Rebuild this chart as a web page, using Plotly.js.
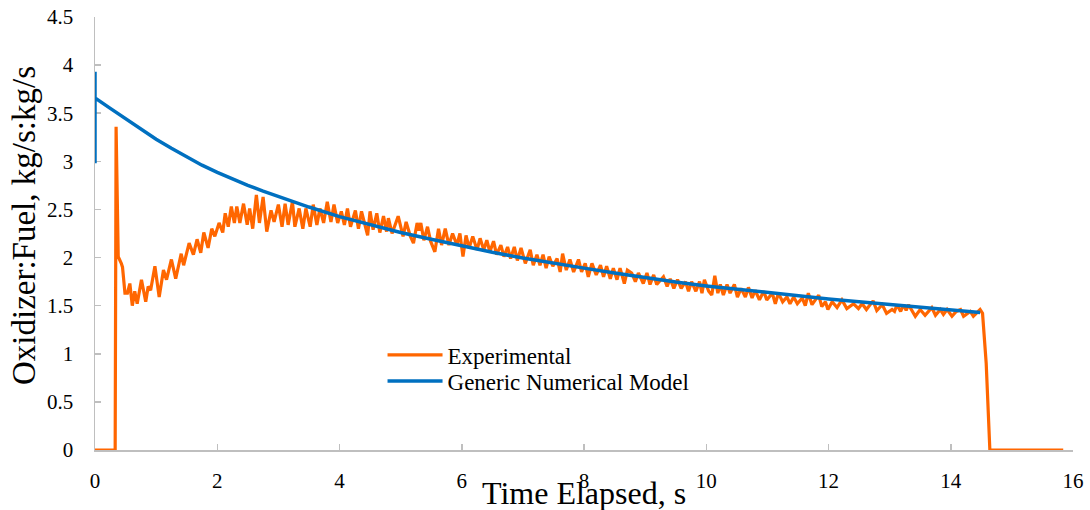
<!DOCTYPE html>
<html>
<head>
<meta charset="utf-8">
<script src="https://cdn.plot.ly/plotly-3.0.1.min.js"></script>
<style>html,body{margin:0;padding:0;background:#fff;}#chart{width:1090px;height:510px;}</style>
</head>
<body>
<div id="chart"></div>
<script>
// Experimental oxidizer:fuel ratio
const expTime = [0, 0.33, 0.345, 0.38, 0.43, 0.45, 0.49, 0.53, 0.57, 0.61, 0.65, 0.69, 0.76, 0.83, 0.87, 0.91, 0.98, 1.05, 1.12, 1.17, 1.25, 1.32, 1.41, 1.45, 1.54, 1.61, 1.67, 1.73, 1.78, 1.85, 1.91, 1.96, 2.03, 2.09, 2.13, 2.18, 2.23, 2.28, 2.32, 2.37, 2.43, 2.49, 2.53, 2.58, 2.64, 2.69, 2.75, 2.81, 2.88, 2.93, 3.00, 3.06, 3.11, 3.16, 3.23, 3.27, 3.34, 3.40, 3.45, 3.52, 3.57, 3.63, 3.68, 3.74, 3.80, 3.86, 3.91, 3.97, 4.03, 4.08, 4.13, 4.18, 4.26, 4.31, 4.36, 4.42, 4.46, 4.50, 4.55, 4.61, 4.66, 4.72, 4.77, 4.80, 4.86, 4.96, 5.04, 5.09, 5.16, 5.21, 5.27, 5.30, 5.33, 5.38, 5.44, 5.49, 5.56, 5.62, 5.67, 5.73, 5.79, 5.85, 5.92, 5.97, 6.02, 6.07, 6.12, 6.18, 6.25, 6.30, 6.36, 6.41, 6.46, 6.52, 6.57, 6.64, 6.69, 6.75, 6.80, 6.86, 6.91, 6.97, 7.04, 7.12, 7.17, 7.23, 7.28, 7.33, 7.38, 7.43, 7.49, 7.56, 7.61, 7.65, 7.71, 7.77, 7.83, 7.91, 7.96, 8.02, 8.07, 8.13, 8.20, 8.27, 8.32, 8.37, 8.43, 8.48, 8.54, 8.59, 8.66, 8.71, 8.78, 8.84, 8.89, 8.97, 9.03, 9.08, 9.14, 9.19, 9.30, 9.36, 9.41, 9.47, 9.53, 9.59, 9.66, 9.71, 9.76, 9.83, 9.89, 9.93, 9.97, 10.04, 10.09, 10.14, 10.19, 10.23, 10.28, 10.34, 10.39, 10.46, 10.51, 10.57, 10.64, 10.69, 10.75, 10.80, 10.87, 10.94, 10.99, 11.08, 11.13, 11.18, 11.25, 11.32, 11.37, 11.43, 11.49, 11.57, 11.62, 11.67, 11.73, 11.84, 11.89, 11.95, 11.99, 12.06, 12.14, 12.22, 12.30, 12.41, 12.49, 12.55, 12.62, 12.73, 12.79, 12.88, 12.95, 13.04, 13.08, 13.12, 13.18, 13.23, 13.27, 13.31, 13.42, 13.50, 13.58, 13.69, 13.75, 13.83, 13.88, 13.94, 14.02, 14.09, 14.16, 14.21, 14.32, 14.37, 14.48, 14.52, 14.58, 14.64, 15.84];
const expRatio = [0, 0, 3.36, 2.01, 1.94, 1.90, 1.63, 1.63, 1.73, 1.50, 1.65, 1.52, 1.77, 1.54, 1.70, 1.66, 1.91, 1.59, 1.87, 1.77, 1.98, 1.78, 2.04, 1.92, 2.15, 2.03, 2.19, 2.05, 2.26, 2.10, 2.30, 2.22, 2.36, 2.26, 2.46, 2.32, 2.53, 2.36, 2.53, 2.36, 2.56, 2.34, 2.51, 2.30, 2.65, 2.36, 2.63, 2.27, 2.49, 2.37, 2.55, 2.32, 2.56, 2.34, 2.58, 2.32, 2.51, 2.30, 2.51, 2.32, 2.55, 2.34, 2.51, 2.36, 2.58, 2.37, 2.55, 2.36, 2.48, 2.34, 2.51, 2.32, 2.49, 2.30, 2.48, 2.32, 2.23, 2.48, 2.29, 2.46, 2.26, 2.43, 2.27, 2.41, 2.25, 2.43, 2.22, 2.37, 2.22, 2.15, 2.36, 2.28, 2.36, 2.18, 2.32, 2.17, 2.06, 2.30, 2.13, 2.30, 2.13, 2.25, 2.13, 2.25, 2.01, 2.23, 2.10, 2.22, 2.08, 2.20, 2.08, 2.18, 2.06, 2.17, 2.03, 2.13, 2.01, 2.11, 1.99, 2.11, 1.97, 2.10, 1.94, 2.08, 1.92, 2.03, 1.92, 2.03, 1.89, 2.01, 1.91, 1.99, 1.85, 2.04, 1.87, 1.98, 1.85, 1.98, 1.85, 1.94, 1.80, 1.94, 1.82, 1.92, 1.80, 1.91, 1.78, 1.89, 1.77, 1.89, 1.73, 1.87, 1.84, 1.75, 1.84, 1.73, 1.84, 1.72, 1.82, 1.72, 1.80, 1.70, 1.78, 1.68, 1.77, 1.68, 1.75, 1.65, 1.75, 1.65, 1.75, 1.63, 1.77, 1.65, 1.61, 1.81, 1.63, 1.72, 1.61, 1.72, 1.63, 1.72, 1.59, 1.68, 1.59, 1.69, 1.58, 1.66, 1.56, 1.65, 1.56, 1.63, 1.52, 1.63, 1.54, 1.59, 1.52, 1.59, 1.52, 1.58, 1.50, 1.63, 1.51, 1.61, 1.49, 1.54, 1.46, 1.54, 1.48, 1.56, 1.47, 1.52, 1.47, 1.52, 1.46, 1.55, 1.45, 1.51, 1.42, 1.46, 1.44, 1.51, 1.44, 1.51, 1.45, 1.51, 1.39, 1.46, 1.40, 1.48, 1.40, 1.46, 1.41, 1.46, 1.39, 1.44, 1.46, 1.39, 1.44, 1.39, 1.46, 1.42, 0.90, 0, 0];

// Generic numerical model
const modelTime = [0, 0, 0, 0.25, 0.5, 0.75, 1.0, 1.25, 1.5, 1.75, 2.0, 2.25, 2.5, 2.75, 3.0, 3.5, 4.0, 4.5, 5.0, 5.5, 6.0, 6.5, 7.0, 7.5, 8.0, 8.5, 9.0, 9.5, 10.0, 10.5, 11.0, 11.5, 12.0, 12.5, 13.0, 13.5, 14.0, 14.48];
const modelRatio = [2.98, 3.93, 3.66, 3.55, 3.44, 3.335, 3.23, 3.135, 3.045, 2.96, 2.885, 2.815, 2.75, 2.69, 2.635, 2.525, 2.425, 2.34, 2.26, 2.19, 2.12, 2.055, 1.995, 1.94, 1.89, 1.84, 1.79, 1.745, 1.705, 1.67, 1.635, 1.60, 1.57, 1.54, 1.51, 1.48, 1.455, 1.43];

const seriesNames = ["Experimental", "Generic Numerical Model"];
const xTickVals = [0, 2, 4, 6, 8, 10, 12, 14, 16];
const yTickVals = [0, 0.5, 1, 1.5, 2, 2.5, 3, 3.5, 4, 4.5];
const xTitle = "Time Elapsed, s";
const yTitle = "Oxidizer:Fuel, kg/s:kg/s";

const FONT = "Liberation Serif";

const traces = [
  {x: expTime, y: expRatio, name: seriesNames[0], type: "scatter", mode: "lines",
   line: {color: "#ff6600", width: 3.2}, legend: "legend"},
  {x: modelTime, y: modelRatio, name: seriesNames[1], type: "scatter", mode: "lines",
   line: {color: "#0070c0", width: 3.5}, legend: "legend2"}
];

const legendBase = {xanchor: "left", yanchor: "middle", bgcolor: "rgba(0,0,0,0)",
                    font: {family: FONT, size: 23, color: "#000"}, itemwidth: 55};

const layout = {
  width: 1090, height: 510,
  margin: {l: 95, r: 17, t: 17, b: 60},
  paper_bgcolor: "#ffffff", plot_bgcolor: "#ffffff",
  font: {family: FONT, color: "#000000", size: 21},
  showlegend: true,
  legend: Object.assign({x: 0.294, y: 0.2194}, legendBase),
  legend2: Object.assign({x: 0.294, y: 0.1594}, legendBase),
  xaxis: {range: [0, 16], tickvals: xTickVals, ticktext: xTickVals.map(String),
          showgrid: false, zeroline: false, showline: true, linecolor: "#bfbfbf", linewidth: 1.5,
          ticks: "inside", ticklen: 6, tickcolor: "#bfbfbf", tickwidth: 1.5,
          tickfont: {family: FONT, size: 21, color: "#000"}, ticklabelstandoff: 11,
          layer: "below traces", fixedrange: true},
  yaxis: {range: [0, 4.5], tickvals: yTickVals, ticktext: yTickVals.map(String),
          showgrid: false, zeroline: false, showline: true, linecolor: "#bfbfbf", linewidth: 1.5,
          ticks: "inside", ticklen: 6, tickcolor: "#bfbfbf", tickwidth: 1.5,
          tickfont: {family: FONT, size: 21, color: "#000"}, ticklabelstandoff: 16,
          layer: "below traces", fixedrange: true},
  annotations: [
    {text: xTitle, xref: "paper", yref: "paper", x: 0.5, y: -0.099, xanchor: "center", yanchor: "middle",
     showarrow: false, font: {family: FONT, size: 32, color: "#000"}},
    {text: yTitle, xref: "paper", yref: "paper", x: -0.0726, y: 0.5196, xanchor: "center", yanchor: "middle",
     textangle: -90, showarrow: false, font: {family: FONT, size: 33, color: "#000"}}
  ]
};

Plotly.newPlot("chart", traces, layout, {displayModeBar: false, staticPlot: true});
</script>
</body>
</html>
